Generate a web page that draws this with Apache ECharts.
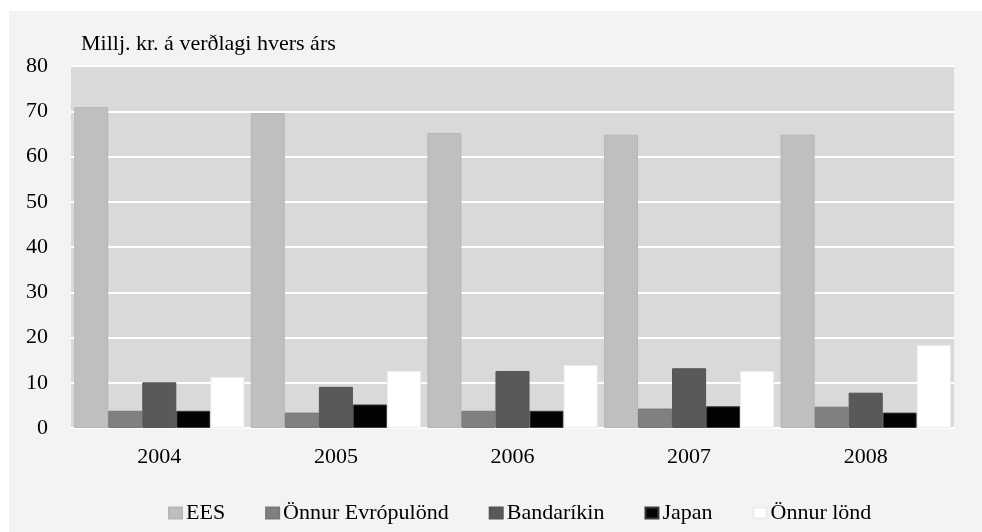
<!DOCTYPE html>
<html>
<head>
<meta charset="utf-8">
<script src="https://cdn.jsdelivr.net/npm/echarts@6/dist/echarts.min.js"></script>
<style>
  html, body { margin: 0; padding: 0; background: #ffffff; }
  #main { position: absolute; left: 9px; top: 11px; width: 973px; height: 521px; }
</style>
</head>
<body>
<div id="main"></div>
<script>
// data
const years = ["2004", "2005", "2006", "2007", "2008"];
const ees = [70.9, 69.6, 65.2, 64.8, 64.8];
const onnurEvropulond = [3.8, 3.4, 3.8, 4.3, 4.7];
const bandarikin = [10.1, 9.1, 12.6, 13.2, 7.8];
const japan = [3.8, 5.2, 3.8, 4.8, 3.4];
const onnurLond = [11.3, 12.6, 13.9, 12.6, 18.3];
const yTicks = [0, 10, 20, 30, 40, 50, 60, 70, 80];

const font = "'Liberation Serif', 'Times New Roman', serif";

const chart = echarts.init(document.getElementById("main"));

function bar(name, data, color, border) {
  return {
    name: name,
    type: "bar",
    data: data,
    barGap: "0%",
    barCategoryGap: "3.6%",
    itemStyle: { color: color, borderColor: border, borderWidth: 1 },
  };
}

const option = {
  backgroundColor: "#f2f3f2",
  animation: false,
  title: {
    text: "Millj. kr. á verðlagi hvers árs",
    left: 72,
    top: 22,
    padding: 0,
    textStyle: { fontFamily: font, fontSize: 22, fontWeight: "normal", color: "#000" },
  },
  legend: {
    data: ["EES", "Önnur Evrópulönd", "Bandaríkin", "Japan", "Önnur lönd"],
    left: 159,
    top: 491,
    padding: 0,
    icon: "rect",
    itemWidth: 13,
    itemHeight: 11,
    itemGap: 40,
    textStyle: { fontFamily: font, fontSize: 22, color: "#000", padding: [0, 0, 0, -1] },
  },
  grid: {
    left: 62,
    top: 55,
    right: 28,
    bottom: 104,
    show: true,
    backgroundColor: "#d9d9d9",
    borderWidth: 0,
  },
  xAxis: {
    type: "category",
    data: years,
    axisLine: { show: true, lineStyle: { color: "#ffffff", width: 2 } },
    axisTick: { show: false },
    axisLabel: { fontFamily: font, fontSize: 22, color: "#000", margin: 18 },
  },
  yAxis: {
    type: "value",
    min: yTicks[0],
    max: yTicks[yTicks.length - 1],
    interval: 10,
    axisLine: { show: false },
    axisTick: { show: false },
    axisLabel: { fontFamily: font, fontSize: 22, color: "#000", margin: 23 },
    splitLine: { show: true, lineStyle: { color: "#ffffff", width: 2 } },
  },
  series: [
    bar("EES", ees, "#bfbfbf", "#b6b6b6"),
    bar("Önnur Evrópulönd", onnurEvropulond, "#808080", "#787878"),
    bar("Bandaríkin", bandarikin, "#595959", "#545454"),
    bar("Japan", japan, "#030303", "#3a3a3a"),
    bar("Önnur lönd", onnurLond, "#ffffff", "#ececec"),
  ],
};

chart.setOption(option);
</script>
</body>
</html>
